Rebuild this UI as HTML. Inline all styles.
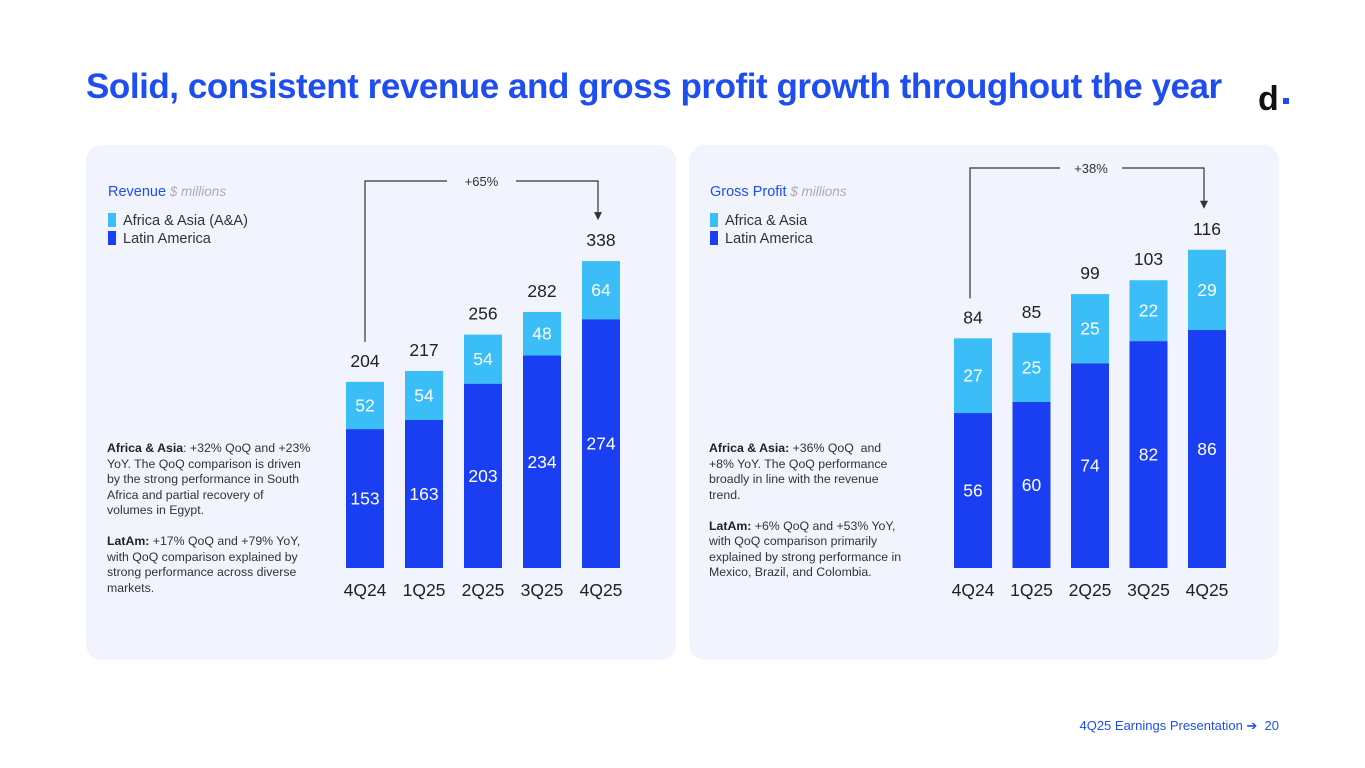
<!DOCTYPE html>
<html><head><meta charset="utf-8">
<style>
body{margin:0;width:1365px;height:768px;background:#fff;font-family:"Liberation Sans",sans-serif;position:relative;overflow:hidden}
.title{position:absolute;left:86px;top:67px;font-size:35px;font-weight:bold;color:#1f4ef0;letter-spacing:-0.45px;white-space:nowrap}
.logo{position:absolute;left:1258px;top:80px;font-size:34px;font-weight:bold;color:#111}
.logo span{display:inline-block;width:6px;height:6px;background:#1f4ef0;margin-left:4px;vertical-align:middle}
.panel{position:absolute;top:145px;width:590px;height:515px;background:#f1f4fd;border-radius:16px}
.note{position:absolute;font-size:12.3px;line-height:15.5px;color:#333;width:205px}
.note b{color:#222}
.foot{position:absolute;right:86px;top:718px;font-size:13px;color:#1f4ef0}
svg{position:absolute;left:0;top:0}
</style></head><body>
<div class="title">Solid, consistent revenue and gross profit growth throughout the year</div>
<div class="logo">d<span></span></div>
<div class="panel" style="left:86px"></div>
<div class="panel" style="left:689px"></div>
<div class="note" style="left:107px;top:441px"><b>Africa &amp; Asia</b>: +32% QoQ and +23% YoY. The QoQ comparison is driven by the strong performance in South Africa and partial recovery of volumes in Egypt.<br><br><b>LatAm:</b> +17% QoQ and +79% YoY, with QoQ comparison explained by strong performance across diverse markets.</div>
<div class="note" style="left:709px;top:441px;width:200px"><b>Africa &amp; Asia:</b> +36% QoQ &nbsp;and +8% YoY. The QoQ performance broadly in line with the revenue trend.<br><br><b>LatAm:</b> +6% QoQ and +53% YoY, with QoQ comparison primarily explained by strong performance in Mexico, Brazil, and Colombia.</div>
<div class="foot">4Q25 Earnings Presentation ➔ &nbsp;20</div>
<svg id="chart" width="1365" height="768" xmlns="http://www.w3.org/2000/svg"></svg>
<script>
const categories=["4Q24","1Q25","2Q25","3Q25","4Q25"];
const revLatam=[153,163,203,234,274];
const revAfrica=[52,54,54,48,64];
const revTotal=[204,217,256,282,338];
const gpLatam=[56,60,74,82,86];
const gpAfrica=[27,25,25,22,29];
const gpTotal=[84,85,99,103,116];
const DARK="#1a3ef2",LIGHT="#3bbdf8";
const svg=document.getElementById('chart');
const NS="http://www.w3.org/2000/svg";
function mk(tag,attrs,txt){const e=document.createElementNS(NS,tag);for(const k in attrs)e.setAttribute(k,attrs[k]);if(txt!==undefined)e.textContent=txt;svg.appendChild(e);return e;}
function chart(cfg){
  const y=v=>cfg.base-v*cfg.k;
  const x=i=>cfg.x0+i*cfg.step;
  const w=38;
  categories.forEach((c,i)=>{
    const l=cfg.latam[i],a=cfg.africa[i],t=cfg.total[i];
    let r=mk('rect',{x:x(i)-w/2,y:y(l),width:w,height:cfg.base-y(l),fill:DARK});
    
    
    r=mk('rect',{x:x(i)-w/2,y:y(l+a),width:w,height:y(l)-y(l+a),fill:LIGHT});
    
    
    let tx=mk('text',{x:x(i),y:(y(l)+cfg.base)/2+6,'text-anchor':'middle','font-size':17.5,fill:'#fff'},l);
    
    
    tx=mk('text',{x:x(i),y:(y(l)+y(l+a))/2+6,'text-anchor':'middle','font-size':17.5,fill:'#fff'},a);
    
    
    tx=mk('text',{x:x(i),y:y(l+a)-15,'text-anchor':'middle','font-size':17.5,fill:'#222'},t);
    
    
    tx=mk('text',{x:x(i),y:596,'text-anchor':'middle','font-size':17.5,fill:'#222'},c);
    
    
  });
  const n=categories.length-1;
  const ly=cfg.connY, sx=x(0)+cfg.sOff, ex=x(n)-3;
  const sTop=y(cfg.latam[0]+cfg.africa[0])-40;
  const eTop=y(cfg.latam[n]+cfg.africa[n])-40;
  let p=mk('path',{d:`M${sx},${sTop} V${ly} H${cfg.gap0} M${cfg.gap1},${ly} H${ex} V${eTop-8}`,fill:'none',stroke:'#333','stroke-width':1.2});
  
  
  p=mk('path',{d:`M${ex-4},${eTop-9} L${ex+4},${eTop-9} L${ex},${eTop-1} Z`,fill:'#333'});
  
  
  const g=mk('text',{x:(cfg.gap0+cfg.gap1)/2,y:ly+5,'text-anchor':'middle','font-size':13,fill:'#333'},cfg.growth);
  
  
  let t=mk('text',{x:cfg.lx,y:196,'font-size':14.5,fill:'#1f4ef0'},cfg.title);
  
  
  const ts=document.createElementNS(NS,'tspan');ts.setAttribute('fill','#aab');ts.setAttribute('font-style','italic');ts.setAttribute('font-size','13.5');ts.textContent=' $ millions';t.appendChild(ts);
  [[LIGHT,cfg.leg1,213],[DARK,'Latin America',231]].forEach(([col,lab,yy])=>{
    let r=mk('rect',{x:cfg.lx,y:yy,width:8,height:14,fill:col});
    
    
    let tt=mk('text',{x:cfg.lx+15,y:yy+12,'font-size':14.5,fill:'#333'},lab);
    
    
  });
}
chart({latam:revLatam,africa:revAfrica,total:revTotal,x0:365,step:59,base:568,k:0.908,connY:181,gap0:447,gap1:516,sOff:0,growth:'+65%',title:'Revenue',leg1:'Africa & Asia (A&A)',lx:108});
chart({latam:gpLatam,africa:gpAfrica,total:gpTotal,x0:973,step:58.5,base:568,k:2.767,connY:168,gap0:1060,gap1:1122,sOff:-3,growth:'+38%',title:'Gross Profit',leg1:'Africa & Asia',lx:710});
</script>
</body></html>
